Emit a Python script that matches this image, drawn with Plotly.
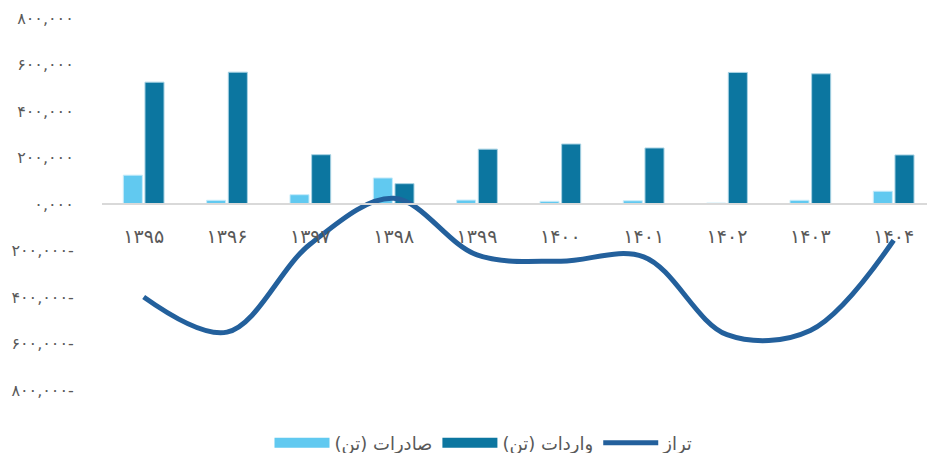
import plotly.graph_objects as go

years = ["۱۳۹۵", "۱۳۹۶", "۱۳۹۷", "۱۳۹۸", "۱۳۹۹", "۱۴۰۰", "۱۴۰۱", "۱۴۰۲", "۱۴۰۳", "۱۴۰۴"]
exports = [124000, 16000, 40000, 112000, 17000, 11600, 14000, 4000, 16000, 55000]
imports = [524000, 567000, 212000, 87500, 236000, 258000, 241000, 566000, 560000, 211000]
balance = [-400000, -551000, -172000, 24500, -219000, -246000, -227000, -562000, -544000, -156000]

ytick_vals = [800000, 600000, 400000, 200000, 0, -200000, -400000, -600000, -800000]
ytick_text = ["۸۰۰,۰۰۰", "۶۰۰,۰۰۰", "۴۰۰,۰۰۰", "۲۰۰,۰۰۰", "۰,۰۰۰",
              "۲۰۰,۰۰۰-", "۴۰۰,۰۰۰-", "۶۰۰,۰۰۰-", "۸۰۰,۰۰۰-"]

names = ["صادرات (تن)", "واردات (تن)", "تراز"]
colors = ["#61c9f0", "#0c76a0", "#23609c"]

font_fa = "DejaVu Sans"

fig = go.Figure()
fig.add_trace(go.Bar(x=years, y=exports, name=names[0], showlegend=False,
                     marker=dict(color=colors[0], line=dict(color="#c8ecfa", width=1))))
fig.add_trace(go.Bar(x=years, y=imports, name=names[1], showlegend=False,
                     marker=dict(color=colors[1], line=dict(color="#a9d3e4", width=1))))
fig.add_trace(go.Scatter(x=years, y=balance, name=names[2], mode="lines", showlegend=False,
                         line=dict(color=colors[2], width=5, shape="spline", smoothing=1)))

# legend proxies (wide swatches like the reference)
for nm, col, w in zip(names, colors, [14, 14, 5]):
    fig.add_trace(go.Scatter(x=[None], y=[None], name=nm, mode="lines",
                             line=dict(color=col, width=w)))

fig.update_layout(
    width=927, height=453,
    margin=dict(l=102, r=0, t=18, b=63, autoexpand=False),
    paper_bgcolor="white", plot_bgcolor="white",
    barmode="group", bargap=0.48, bargroupgap=0.12,
    font=dict(family=font_fa, color="#595959", size=14),
    showlegend=True,
    legend=dict(orientation="h", x=(484 - 102) / 825, xref="paper", xanchor="center",
                y=10 / 453, yref="container", yanchor="middle",
                font=dict(size=18, color="#595959", family=font_fa),
                itemwidth=55, traceorder="normal"),
)
fig.update_xaxes(
    type="category", range=[-0.5, 9.4], automargin=False,
    anchor="free", position=0.5,
    showline=True, linecolor="#d9d9d9", linewidth=2,
    showgrid=False, zeroline=False,
    ticks="outside", ticklen=15, tickcolor="rgba(0,0,0,0)",
    tickfont=dict(size=19, color="#595959", family=font_fa),
)
fig.update_yaxes(
    range=[-800000, 800000], automargin=False,
    tickvals=ytick_vals, ticktext=ytick_text,
    showgrid=False, zeroline=False, showline=False,
    ticks="outside", ticklen=24, tickcolor="rgba(0,0,0,0)",
    tickfont=dict(size=16, color="#595959", family=font_fa),
)

fig.write_html("out.html", config={"displayModeBar": False},
               post_script="document.body.style.margin='0px';")
